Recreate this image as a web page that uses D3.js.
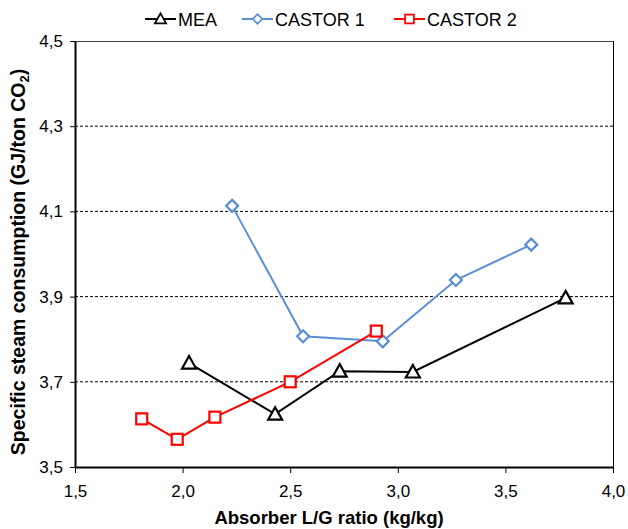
<!DOCTYPE html>
<html>
<head>
<meta charset="utf-8">
<script src="https://cdn.jsdelivr.net/npm/d3@7"></script>
<style>
  body { margin: 0; background: #fff; }
  text { font-family: "Liberation Sans", Arial, sans-serif; fill: #000; }
</style>
</head>
<body>
<script>
// data
var meaX = [2.03, 2.43, 2.73, 3.07, 3.78];
var meaY = [3.744, 3.624, 3.725, 3.723, 3.897];
var castor1X = [2.23, 2.56, 2.93, 3.27, 3.62];
var castor1Y = [4.113, 3.807, 3.795, 3.939, 4.022];
var castor2X = [1.81, 1.975, 2.15, 2.50, 2.90];
var castor2Y = [3.613, 3.565, 3.617, 3.70, 3.819];
var xTicks = [1.5, 2.0, 2.5, 3.0, 3.5, 4.0];
var yTicks = [3.5, 3.7, 3.9, 4.1, 4.3, 4.5];

var W = 628, H = 529;
var plotL = 75, plotR = 613, plotT = 41, plotB = 467;

var svg = d3.select('body').append('svg').attr('width', W).attr('height', H);

var x = d3.scaleLinear().domain([1.5, 4.0]).range([plotL, plotR]);
var y = d3.scaleLinear().domain([3.5, 4.5]).range([plotB, plotT]);
var fmt = function(d) { return d3.format('.1f')(d).replace('.', ','); };

// gridlines
svg.append('g').selectAll('line').data(yTicks.slice(1, 5)).join('line')
  .attr('x1', plotL).attr('x2', plotR)
  .attr('y1', d => y(d)).attr('y2', d => y(d))
  .style('stroke', '#000').style('stroke-width', 1).style('stroke-dasharray', '3,2');

// top and right border
svg.append('line').attr('x1', plotL).attr('x2', plotR).attr('y1', plotT + 0.5).attr('y2', plotT + 0.5)
  .style('stroke', '#444').style('stroke-width', 1);
svg.append('line').attr('x1', plotR + 0.5).attr('x2', plotR + 0.5).attr('y1', plotT).attr('y2', plotB)
  .style('stroke', '#000').style('stroke-width', 1);

// axes
var xAxis = svg.append('g').attr('transform', 'translate(0,' + plotB + ')')
  .call(d3.axisBottom(x).tickValues(xTicks).tickFormat(fmt).tickSizeInner(6).tickSizeOuter(0).tickPadding(12));
var yAxis = svg.append('g').attr('transform', 'translate(' + plotL + ',0)')
  .call(d3.axisLeft(y).tickValues(yTicks).tickFormat(fmt).tickSizeInner(5).tickSizeOuter(0).tickPadding(7));
[xAxis, yAxis].forEach(function(a) {
  a.select('.domain').style('stroke', '#000').style('stroke-width', 2);
  a.selectAll('.tick line').style('stroke', '#000').style('stroke-width', 1);
  a.selectAll('text').style('font-size', '17px').style('font-family', '"Liberation Sans", Arial, sans-serif');
});

// axis titles
svg.append('text').attr('x', (plotL + plotR) / 2 - 15).attr('y', 524)
  .attr('text-anchor', 'middle').style('font-size', '18.5px').style('font-weight', 'bold')
  .text('Absorber L/G ratio (kg/kg)');
var yt = svg.append('text').attr('transform', 'translate(25,' + 262 + ') rotate(-90)')
  .attr('text-anchor', 'middle').style('font-size', '19.5px').style('font-weight', 'bold');
yt.append('tspan').text('Specific steam consumption (GJ/ton CO');
yt.append('tspan').attr('dy', 4).style('font-size', '13px').text('2');
yt.append('tspan').attr('dy', -4).text(')');

var series = [
  { name: 'MEA', xs: meaX, ys: meaY, color: '#000', shape: 'triangle' },
  { name: 'CASTOR 1', xs: castor1X, ys: castor1Y, color: '#5a8fd6', shape: 'diamond' },
  { name: 'CASTOR 2', xs: castor2X, ys: castor2Y, color: '#ff0000', shape: 'square' }
];

function marker(g, shape, color) {
  if (shape === 'triangle') {
    g.append('path').attr('d', 'M0,-7L7,5.5L-7,5.5Z')
      .style('fill', '#fff').style('stroke', color).style('stroke-width', 2.2);
  } else if (shape === 'diamond') {
    g.append('path').attr('d', 'M0,-6L6,0L0,6L-6,0Z')
      .style('fill', '#fff').style('stroke', color).style('stroke-width', 2.2);
  } else {
    g.append('rect').attr('x', -5.5).attr('y', -5.5).attr('width', 11).attr('height', 11)
      .style('fill', '#fff').style('stroke', color).style('stroke-width', 2.2);
  }
}

series.forEach(function(s) {
  var pts = s.xs.map(function(v, i) { return [v, s.ys[i]]; });
  svg.append('path').datum(pts)
    .attr('d', d3.line().x(d => x(d[0])).y(d => y(d[1])))
    .style('fill', 'none').style('stroke', s.color).style('stroke-width', 2);
  svg.append('g').selectAll('g').data(pts).join('g')
    .attr('transform', d => 'translate(' + x(d[0]) + ',' + y(d[1]) + ')')
    .each(function() { marker(d3.select(this), s.shape, s.color); });
});

// legend
var legX = [145, 242, 394];
series.forEach(function(s, i) {
  var g = svg.append('g').attr('transform', 'translate(' + legX[i] + ',19)');
  g.append('line').attr('x1', 0).attr('x2', 31).attr('y1', 0).attr('y2', 0)
    .style('stroke', s.color).style('stroke-width', 2);
  var m = g.append('g').attr('transform', 'translate(15.5,0) scale(0.8)');
  marker(m, s.shape, s.color);
  g.append('text').attr('x', 33).attr('y', 6.5).style('font-size', '18px').text(s.name);
});
</script>
</body>
</html>
